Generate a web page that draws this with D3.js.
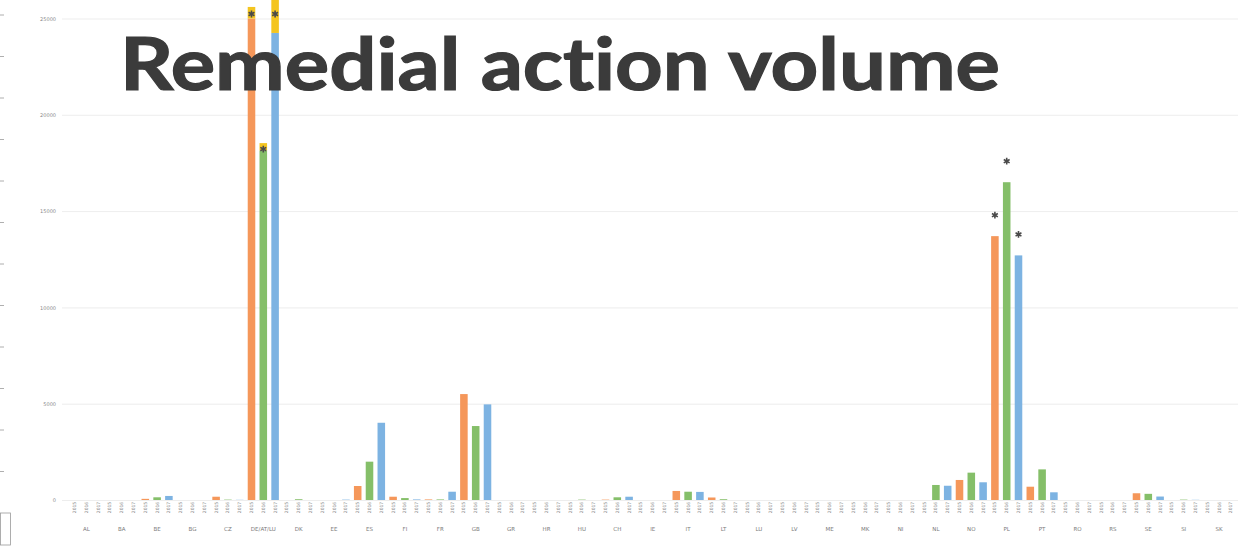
<!DOCTYPE html>
<html>
<head>
<meta charset="utf-8">
<script src="https://cdn.jsdelivr.net/npm/d3@7"></script>
<style>
  html, body { margin: 0; padding: 0; background: #fff; }
  svg { display: block; }
</style>
</head>
<body>
<svg id="chart" width="1238" height="554"></svg>
<script>
// Categories
const countries = ['AL', 'BA', 'BE', 'BG', 'CZ', 'DE/AT/LU', 'DK', 'EE', 'ES', 'FI', 'FR', 'GB', 'GR',
  'HR', 'HU', 'CH', 'IE', 'IT', 'LT', 'LU', 'LV', 'ME', 'MK', 'NI', 'NL', 'NO', 'PL', 'PT', 'RO',
  'RS', 'SE', 'SI', 'SK'];
const years = ['2015', '2016', '2017'];

// Volumes per country, one list per year
const values2015 = [0, 0, 60, 0, 170, 25000, 0, 0, 727, 170, 30, 5500, 0,
  0, 0, 20, 0, 470, 130, 0, 0, 0, 0, 0, 0, 1040, 13700, 690, 0,
  0, 350, 0, 0];
const values2016 = [0, 0, 140, 0, 20, 18150, 40, 0, 1990, 100, 30, 3840, 0,
  0, 20, 140, 0, 430, 40, 0, 0, 0, 0, 0, 780, 1420, 16500, 1590, 0,
  0, 320, 20, 0];
const values2017 = [0, 0, 210, 0, 10, 24250, 0, 20, 4010, 30, 430, 4965, 0,
  0, 0, 170, 0, 420, 0, 0, 0, 0, 0, 0, 740, 920, 12700, 400, 0,
  0, 180, 10, 0];

// Extra (yellow) part stacked on top, DE/AT/LU only
const extraCountries = ['DE/AT/LU'];
const extra2015 = [600];
const extra2016 = [380];
const extra2017 = [2300];

// Bars flagged with an asterisk
const starredCountries = ['DE/AT/LU', 'PL'];

const yTicks = [0, 5000, 10000, 15000, 20000, 25000];

const colors = { '2015': '#f5975a', '2016': '#85bf69', '2017': '#7db3e2' };
const extraColor = '#f4c51f';

const svg = d3.select('#chart');
const W = 1238;

// Flatten into rows
const byYear = { '2015': values2015, '2016': values2016, '2017': values2017 };
const extraByYear = { '2015': extra2015, '2016': extra2016, '2017': extra2017 };
const rows = [];
countries.forEach((c, ci) => {
  years.forEach(y => {
    const ei = extraCountries.indexOf(c);
    rows.push({
      key: c + '|' + y,
      country: c,
      year: y,
      value: byYear[y][ci],
      extra: ei >= 0 ? extraByYear[y][ei] : 0,
      starred: starredCountries.includes(c)
    });
  });
});

const x = d3.scaleBand()
  .domain(rows.map(d => d.key))
  .range([68.6, 1236.8])
  .paddingInner(0.36)
  .paddingOuter(0.18);

const y = d3.scaleLinear()
  .domain([0, 25000])
  .range([500, 18.5]);

// Gridlines + y labels
const yAxis = svg.append('g')
  .attr('transform', 'translate(62,0)')
  .call(d3.axisLeft(y).tickValues(yTicks).tickSize(-(W - 62)).tickPadding(6).tickFormat(d3.format('d')));
yAxis.select('.domain').remove();
yAxis.selectAll('line').attr('stroke', '#e8e8e8').attr('stroke-width', 0.8);
yAxis.selectAll('text')
  .attr('fill', '#8a8a8a')
  .style('font-family', 'DejaVu Sans, sans-serif')
  .style('font-size', '5px');

// Bars
const bars = svg.append('g');
bars.selectAll('rect.main')
  .data(rows.filter(d => d.value > 0))
  .enter().append('rect')
  .attr('class', 'main')
  .attr('x', d => x(d.key))
  .attr('width', x.bandwidth())
  .attr('y', d => y(d.value))
  .attr('height', d => y(0) - y(d.value))
  .attr('fill', d => colors[d.year]);

bars.selectAll('rect.extra')
  .data(rows.filter(d => d.extra > 0))
  .enter().append('rect')
  .attr('class', 'extra')
  .attr('x', d => x(d.key))
  .attr('width', x.bandwidth())
  .attr('y', d => y(d.value + d.extra))
  .attr('height', d => y(d.value) - y(d.value + d.extra))
  .attr('fill', extraColor);

// Asterisks: inside the yellow part, or above the bar
const star = d3.symbol().type(d3.symbolAsterisk).size(32);
svg.append('g').selectAll('path')
  .data(rows.filter(d => d.starred))
  .enter().append('path')
  .attr('d', star)
  .attr('transform', d => {
    const cx = x(d.key) + x.bandwidth() / 2;
    const cy = d.extra > 0 ? Math.max(y(d.value + d.extra) + 6, 14) : y(d.value) - 21;
    return `translate(${cx},${cy})`;
  })
  .attr('stroke', '#4a4a4a')
  .attr('stroke-width', 1.6);

// Year labels (rotated)
svg.append('g').selectAll('text')
  .data(rows)
  .enter().append('text')
  .attr('transform', d => `translate(${x(d.key) + x.bandwidth() / 2 + 1.5},507.5) rotate(-90)`)
  .attr('text-anchor', 'middle')
  .attr('fill', '#8a8a8a')
  .style('font-family', 'DejaVu Sans, sans-serif')
  .style('font-size', '4.5px')
  .text(d => d.year);

// Country labels
svg.append('g').selectAll('text')
  .data(countries)
  .enter().append('text')
  .attr('x', c => x(c + '|2016') + x.bandwidth() / 2)
  .attr('y', 531)
  .attr('text-anchor', 'middle')
  .attr('fill', '#7a7a7a')
  .style('font-family', 'DejaVu Sans, sans-serif')
  .style('font-size', '5.5px')
  .text(c => c);

// Ruler marks at the left edge of the slide
const ruler = svg.append('g').attr('stroke', '#9a9a9a').attr('stroke-width', 0.8);
d3.range(12).forEach(i => {
  ruler.append('line').attr('x1', 0).attr('x2', 4)
    .attr('y1', 15 + i * 41.5).attr('y2', 15 + i * 41.5);
});
ruler.append('rect').attr('x', 0.5).attr('y', 513).attr('width', 10).attr('height', 32)
  .attr('fill', 'none');

// Title
svg.append('text')
  .attr('x', 120)
  .attr('y', 90)
  .attr('textLength', 880)
  .attr('lengthAdjust', 'spacingAndGlyphs')
  .attr('fill', '#3b3b3b')
  .attr('stroke', '#3b3b3b')
  .attr('stroke-width', 1.2)
  .style('font-family', 'Lato, sans-serif')
  .style('font-weight', '700')
  .style('font-size', '72px')
  .style('font-variant-ligatures', 'none')
  .text('Remedial action volume');
</script>
</body>
</html>
